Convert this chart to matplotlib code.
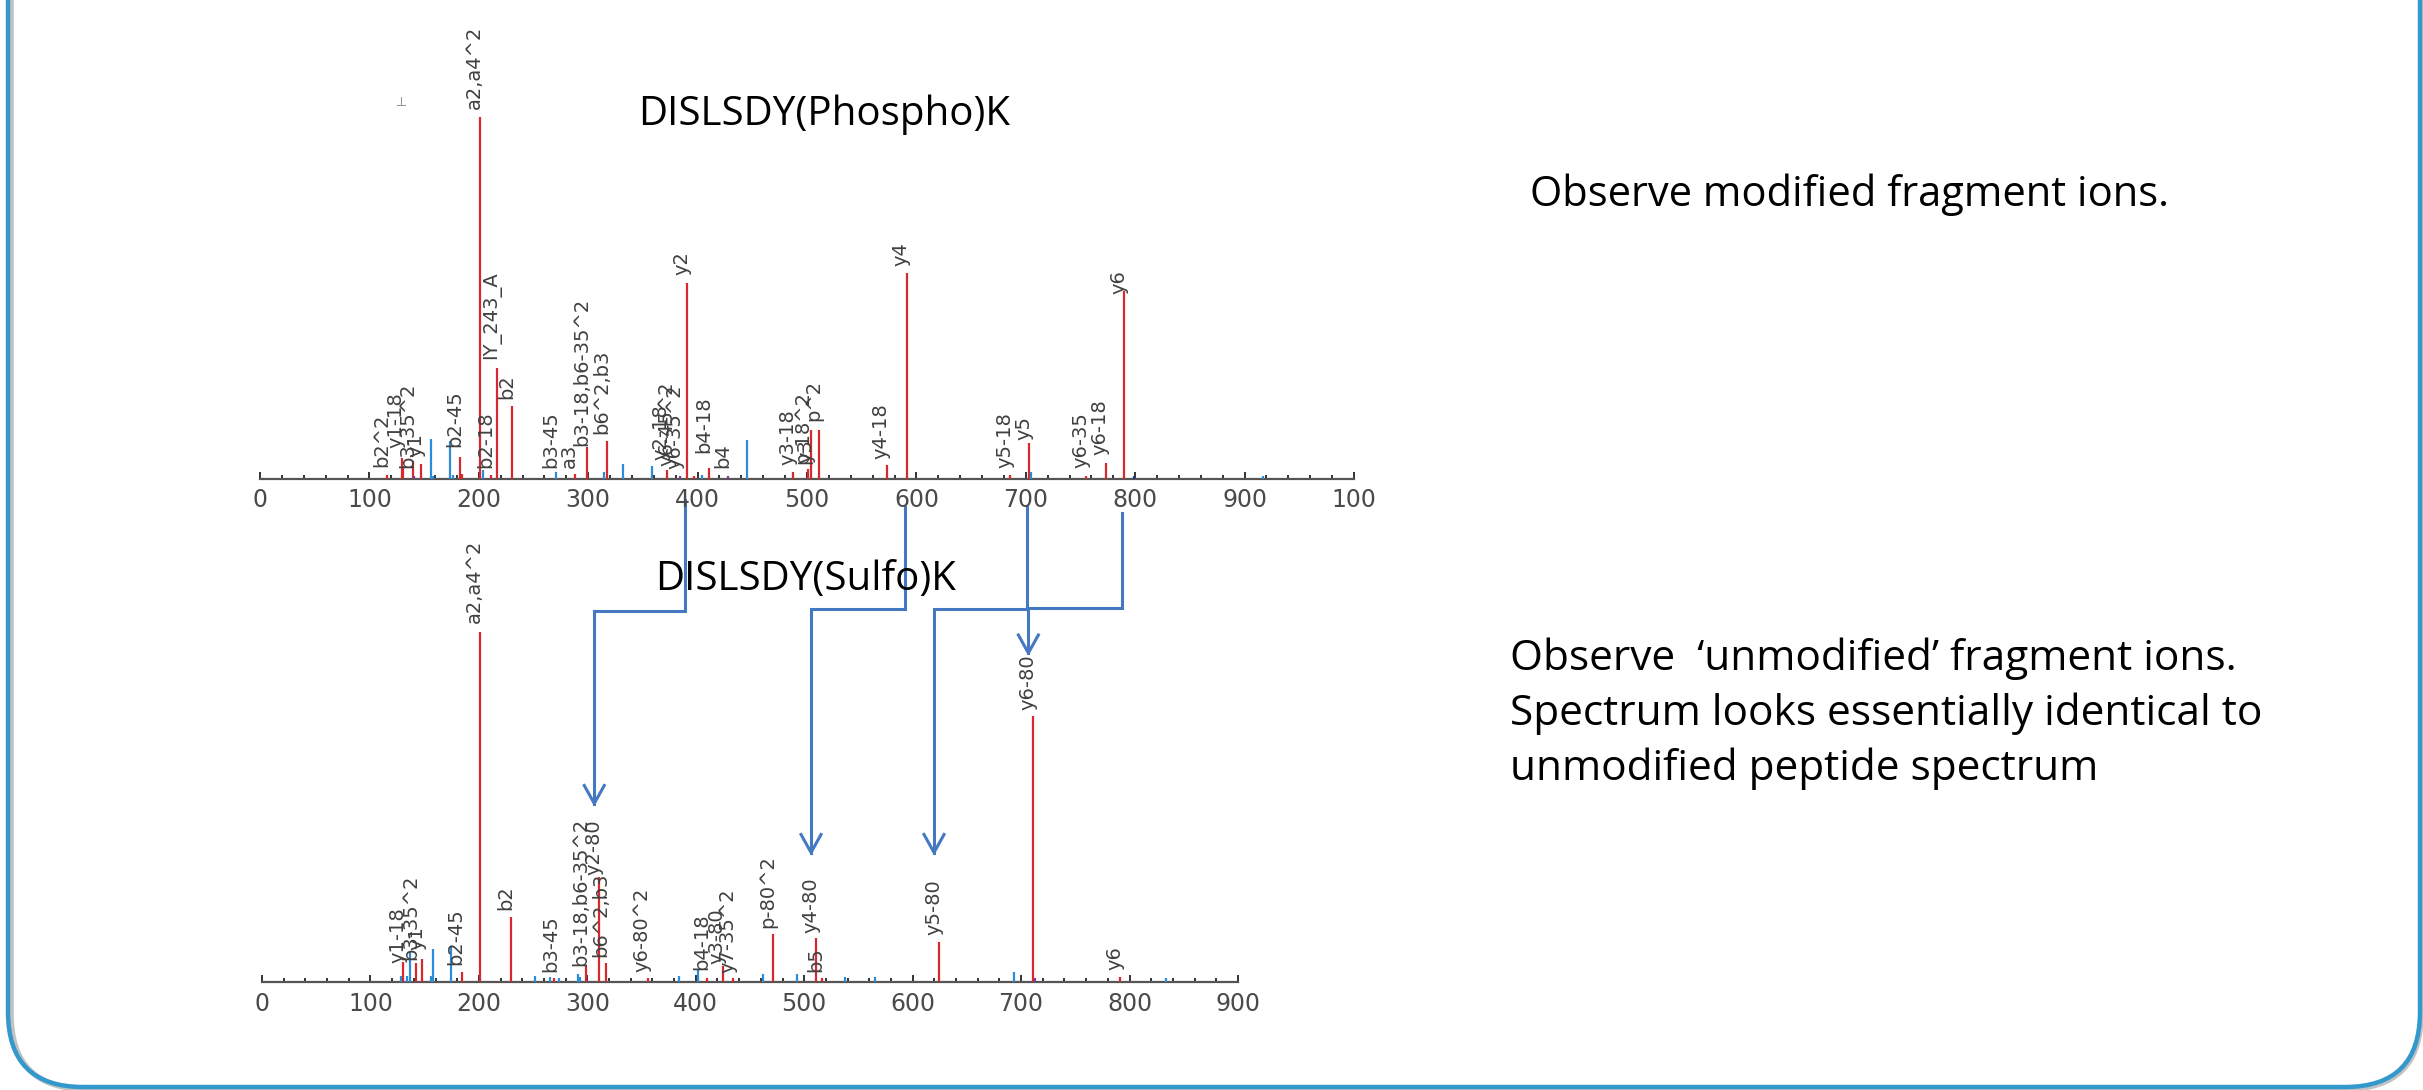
import matplotlib
matplotlib.use("Agg")
import matplotlib.pyplot as plt
from matplotlib.patches import FancyBboxPatch
from matplotlib.lines import Line2D
from matplotlib.ticker import FixedLocator, MultipleLocator

W, H, DPI = 2423, 1090, 100

# ---------------- data ----------------
# top spectrum: DISLSDY(Phospho)K  (m/z, relative intensity, colour class)
top_mz = [115.8, 129.5, 131.0, 139.9, 141.0, 147.1, 156.3, 158.0, 173.7, 176.0,
          182.8, 185.0, 201.1, 203.6, 211.2, 216.3, 230.0, 271.0, 288.0, 298.6,
          314.0, 317.0, 332.0, 358.6, 371.7, 384.0, 390.6, 397.0, 403.7, 410.7,
          428.0, 445.4, 487.5, 500.6, 503.7, 511.3, 572.8, 591.1, 686.0, 703.2,
          705.0, 755.0, 773.0, 790.0, 799.0, 917.0]
top_int = [0.9, 5.7, 3.5, 4.8, 0.8, 4.1, 10.9, 0.8, 10.3, 0.9,
           6.0, 1.2, 100.0, 2.3, 0.9, 30.6, 20.0, 1.7, 1.2, 8.6,
           1.9, 10.3, 4.1, 3.4, 2.3, 0.8, 54.1, 0.8, 1.0, 3.0,
           0.8, 10.6, 1.7, 2.6, 13.3, 13.5, 3.6, 56.8, 1.1, 9.7,
           1.7, 0.8, 4.3, 51.7, 0.8, 0.6]
top_cls = ["r", "r", "r", "r", "p", "r", "b", "b", "b", "b",
           "r", "r", "r", "b", "r", "r", "r", "b", "r", "r",
           "b", "r", "b", "b", "r", "p", "r", "r", "b", "r",
           "p", "b", "r", "r", "r", "r", "r", "r", "r", "r",
           "b", "r", "r", "r", "n", "b"]

# top spectrum peak labels: (m/z, text, label bottom in relative intensity)
top_lab_mz = [115.8, 129.5, 139.9, 147.1, 182.8, 201.1, 211.2, 216.3, 230.0,
              271.0, 288.0, 298.6, 317.0, 371.7, 377.0, 384.0, 390.6, 410.7,
              428.0, 487.5, 500.6, 503.7, 511.3, 572.8, 591.1, 686.0, 703.2,
              755.0, 773.0, 790.0]
top_lab_txt = ["b2^2", "y1-18", "b3-35^2", "y1", "b2-45", "a2,a4^2", "b2-18",
               "IY_243_A", "b2", "b3-45", "a3", "b3-18,b6-35^2", "b6^2,b3",
               "y2-18", "y6-45^2", "y6-35^2", "y2", "b4-18", "b4", "y3-18",
               "p-18^2", "y3", "p^2", "y4-18", "y4", "y5-18", "y5", "y6-35",
               "y6-18", "y6"]
top_lab_y = [3.1, 8.3, 3.0, 6.0, 8.6, 102.2, 3.0, 33.1, 22.0,
             3.0, 3.0, 9.1, 12.4, 5.0, 3.5, 2.5, 56.1, 7.0,
             2.8, 3.6, 4.0, 4.4, 16.0, 5.5, 58.8, 3.0, 10.5,
             2.8, 6.4, 51.0]

# bottom spectrum: DISLSDY(Sulfo)K
bot_mz = [128.2, 130.3, 133.4, 136.5, 142.0, 148.0, 155.8, 157.4, 174.0, 184.0,
          201.0, 229.6, 251.7, 265.6, 269.6, 274.0, 291.7, 293.0, 298.8, 311.0,
          317.2, 355.7, 384.5, 402.4, 410.0, 424.8, 434.6, 461.7, 471.0, 493.0,
          510.9, 516.0, 538.0, 565.0, 624.3, 693.8, 711.3, 712.8, 791.2, 833.6]
bot_int = [1.8, 5.7, 1.7, 8.5, 5.4, 6.6, 1.7, 9.4, 10.2, 2.8,
           100.0, 18.5, 1.8, 1.4, 1.1, 1.1, 2.3, 1.5, 4.5, 30.0,
           5.4, 1.1, 1.7, 3.8, 1.1, 4.5, 1.1, 2.3, 13.6, 2.3,
           12.5, 1.1, 1.4, 1.4, 11.4, 2.9, 75.9, 1.2, 1.4, 1.1]
bot_cls = ["b", "r", "b", "b", "r", "r", "b", "b", "b", "r",
           "r", "r", "b", "b", "r", "b", "b", "b", "r", "r",
           "r", "r", "b", "b", "r", "r", "r", "b", "r", "b",
           "r", "r", "b", "b", "r", "b", "r", "p", "r", "b"]

bot_lab_mz = [130.3, 142.0, 148.0, 184.0, 201.0, 229.6, 271.0, 298.8, 311.0,
              317.2, 355.7, 410.0, 424.8, 434.6, 471.0, 510.9, 516.0, 624.3,
              711.3, 791.2]
bot_lab_txt = ["y1-18", "b3-35^2", "y1", "b2-45", "a2,a4^2", "b2", "b3-45",
               "b3-18,b6-35^2", "y2-80", "b6^2,b3", "y6-80^2", "b4-18", "y3-80",
               "y7-35^2", "p-80^2", "y4-80", "b5", "y5-80", "y6-80", "y6"]
bot_lab_y = [5.4, 6.3, 9.0, 4.9, 102.6, 20.6, 2.9, 4.6, 30.6,
             7.1, 2.9, 3.4, 5.0, 2.5, 15.4, 14.0, 2.9, 13.4,
             77.7, 3.4]

top_ticks = [0, 100, 200, 300, 400, 500, 600, 700, 800, 900, 1000]
top_ticklabels = ["0", "100", "200", "300", "400", "500", "600", "700", "800", "900", "100"]
bot_ticks = [0, 100, 200, 300, 400, 500, 600, 700, 800, 900]
bot_ticklabels = ["0", "100", "200", "300", "400", "500", "600", "700", "800", "900"]

# arrows: (top m/z, bottom m/z, arrow tip in bottom relative intensity)
arrow_from = [390.6, 591.1, 703.2, 790.0]
arrow_to = [311.0, 510.9, 624.3, 711.3]
arrow_tip = [51.0, 37.0, 37.0, 94.0]

title_top = "DISLSDY(Phospho)K"
title_bot = "DISLSDY(Sulfo)K"
note_top = "Observe modified fragment ions."
note_bot = ["Observe  \u2018unmodified\u2019 fragment ions.",
            "Spectrum looks essentially identical to",
            "unmodified peptide spectrum"]

# ---------------- styling ----------------
COL = {"r": "#D8282E", "b": "#2C8CD8", "p": "#7A3C9C", "n": "#1E3A8A"}
LABEL_FONT = ["Liberation Sans Narrow", "DejaVu Sans Condensed", "DejaVu Sans"]
SLIDE_FONT = ["Open Sans", "DejaVu Sans"]
ARROW_COL = "#4479C2"

fig = plt.figure(figsize=(W / DPI, H / DPI), dpi=DPI)
fig.patch.set_facecolor("white")

# overlay axes in pixel coordinates (y downward)
ov = fig.add_axes([0, 0, 1, 1], zorder=0)
ov.set_xlim(0, W)
ov.set_ylim(H, 0)
ov.axis("off")


def px(y):
    return (H - y) / H


def make_spec(left, right, axis_y, full_h, xmax, mz, inten, cls, lmz, ltxt, ly,
              ticks, ticklabels):
    ax = fig.add_axes([left / W, px(axis_y), (right - left) / W, full_h * 1.12 / H], zorder=2)
    ax.patch.set_visible(False)
    ax.set_xlim(0, xmax)
    ax.set_ylim(0, 112)
    for s in ["top", "left", "right"]:
        ax.spines[s].set_visible(False)
    ax.spines["bottom"].set_color("#555555")
    ax.spines["bottom"].set_linewidth(1.6)
    ax.set_yticks([])
    ax.xaxis.set_major_locator(FixedLocator(ticks))
    ax.set_xticklabels(ticklabels)
    ax.xaxis.set_minor_locator(MultipleLocator(20))
    ax.tick_params(axis="x", which="major", direction="in", length=5, width=1.4,
                   color="#333333", pad=7, labelsize=17, labelcolor="#4a4a4a")
    ax.tick_params(axis="x", which="minor", direction="in", length=3, width=1.4,
                   color="#333333")
    for m, v, c in zip(mz, inten, cls):
        ax.vlines(m, 0, v, colors=COL[c], linewidth=1.6, zorder=3)
    for m, t, y in zip(lmz, ltxt, ly):
        ax.annotate(t, xy=(m, y), xytext=(3, 0), textcoords="offset points",
                    rotation=90, ha="right", va="bottom", fontsize=14,
                    color="#404040", family=LABEL_FONT, zorder=4)
    return ax


ax_top = make_spec(260, 1354, 478.5, 362, 1000, top_mz, top_int, top_cls,
                   top_lab_mz, top_lab_txt, top_lab_y, top_ticks, top_ticklabels)
ax_bot = make_spec(262, 1238, 982, 350, 900, bot_mz, bot_int, bot_cls,
                   bot_lab_mz, bot_lab_txt, bot_lab_y, bot_ticks, bot_ticklabels)

# small stray mark near the top of the upper spectrum
ov.text(402, 100, "\u22a2", fontsize=9, color="#777777", ha="center", va="center", rotation=90)

# titles
ov.text(638, 125, title_top, fontsize=29, family=SLIDE_FONT, color="black",
        ha="left", va="baseline", zorder=8)
ov.text(655, 590, title_bot, fontsize=29, family=SLIDE_FONT, color="black",
        ha="left", va="baseline", zorder=8)

# notes on the right
ov.text(1530, 206, note_top, fontsize=30, family=SLIDE_FONT, color="black",
        ha="left", va="baseline")
for i, line in enumerate(note_bot):
    ov.text(1510, 670 + i * 55, line, fontsize=30.5, family=SLIDE_FONT, color="black",
            ha="left", va="baseline")


# arrows connecting fragments (data -> pixel)
def to_px(ax, x, y):
    dx, dy = ax.transData.transform((x, y))
    return dx, H - dy


starts = [500, 507, 507, 513]
elbow_y = [611, 609, 609, 608]
for i, (a, b, tip) in enumerate(zip(arrow_from, arrow_to, arrow_tip)):
    x0, _ = to_px(ax_top, a, 0)
    x0 -= 2
    x1, y1 = to_px(ax_bot, b, tip)
    x1 -= 5
    ov.add_line(Line2D([x0, x0, x1, x1], [starts[i], elbow_y[i], elbow_y[i], y1],
                       color=ARROW_COL, linewidth=2.2, solid_joinstyle="miter", zorder=6))
    ov.add_line(Line2D([x1 - 10, x1, x1 + 10], [y1 - 18, y1, y1 - 18],
                       color=ARROW_COL, linewidth=2.2, zorder=6))

# slide frame with shadow
shadow = FancyBboxPatch((11, -300), 2410, 1389, boxstyle="round,pad=0,rounding_size=75",
                        facecolor="none", edgecolor="#9a9a9a", linewidth=4, alpha=0.6,
                        zorder=0.5)
ov.add_patch(shadow)
frame = FancyBboxPatch((8, -300), 2412, 1387, boxstyle="round,pad=0,rounding_size=75",
                       facecolor="none", edgecolor="#3399CC", linewidth=3.2, zorder=1)
ov.add_patch(frame)

fig.savefig("out.png", dpi=DPI, facecolor="white")
